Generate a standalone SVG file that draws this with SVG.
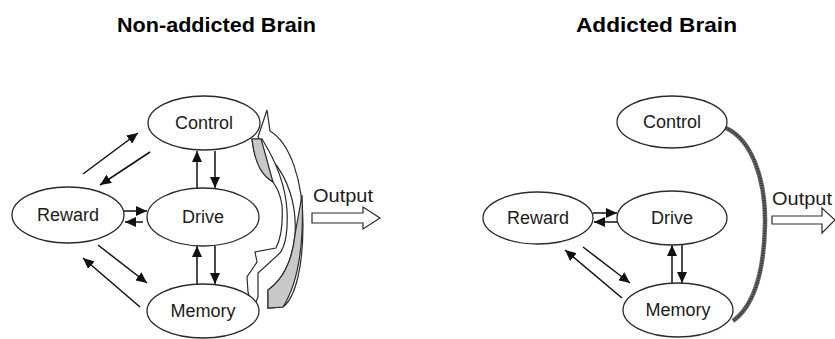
<svg xmlns="http://www.w3.org/2000/svg" width="835" height="339" viewBox="0 0 835 339">
<defs>
<style>
.node ellipse{fill:#fff;stroke:#2b2b2b;stroke-width:1.3}
.lbl{font-family:"Liberation Sans",Arial,sans-serif;font-size:18px;fill:#1c1c1c;text-anchor:middle}
.title{font-family:"Liberation Sans",Arial,sans-serif;font-size:20px;font-weight:bold;fill:#000}
.arr{stroke:#111;stroke-width:1.5;fill:none;marker-end:url(#ah)}
.blk{fill:#fff;stroke:#2b2b2b;stroke-width:1.2;stroke-linejoin:miter}
.gry{fill:#c8c8c8;stroke:#2b2b2b;stroke-width:1.2}
</style>
<marker id="ah" markerUnits="userSpaceOnUse" markerWidth="12" markerHeight="10" refX="11" refY="5" orient="auto">
<path d="M0,0 L11,5 L0,10 Z" fill="#111"/>
</marker>
</defs>
<rect width="835" height="339" fill="#fff"/>

<text class="title" x="117" y="32" textLength="199" lengthAdjust="spacingAndGlyphs">Non-addicted Brain</text>
<text class="title" x="576" y="32" textLength="161" lengthAdjust="spacingAndGlyphs">Addicted Brain</text>

<!-- Left diagram -->
<g id="curved-arrows-left">
<path class="blk" d="M267,110 L270,131 C290,143 303,180 303,225 C303,265 296,297 283,307 L268,308 L268,290 C282,280 292,262 295,235 C297,205 288,178 272,160 C266,152 262,144 258,137 Z"/>
<path class="gry" d="M302,195 C304,240 300,280 283,307 L268,308 L268,290 C282,280 292,262 295,235 C297,222 300,208 302,195 Z"/>
<path class="blk" d="M262,139 C272,155 285,180 287,210 C288,232 286,245 280,253 L258,273 L258,297 L253,309 L248,292 L247,277 L257,262 L255,252 L276,248 C281,238 283,222 282,205 C280,193 277,188 273,182 C262,172 254,160 252,139 Z"/>
<path class="gry" d="M252,139 L261,139 C265,152 268,165 273,182 C263,176 255,166 252,139 Z"/>
</g>

<g id="output-left">
<text class="lbl" x="343" y="202" textLength="60" lengthAdjust="spacingAndGlyphs" style="font-size:19px">Output</text>
<path class="blk" d="M312,213 H363 V207 L380,218 L363,229 V223 H312 Z"/>
</g>

<g id="connectors-left">
<line class="arr" x1="197" y1="188" x2="197" y2="151"/>
<line class="arr" x1="215" y1="151" x2="215" y2="188"/>
<line class="arr" x1="197" y1="284" x2="197" y2="246"/>
<line class="arr" x1="215" y1="246" x2="215" y2="284"/>
<line class="arr" x1="83" y1="174" x2="138" y2="133"/>
<line class="arr" x1="150" y1="152" x2="100" y2="185"/>
<line class="arr" x1="123" y1="211" x2="147" y2="211"/>
<line class="arr" x1="143" y1="222" x2="125" y2="222"/>
<line class="arr" x1="98" y1="245" x2="147" y2="283"/>
<line class="arr" x1="140" y1="307" x2="83" y2="258"/>
</g>

<g id="control-left" class="node"><ellipse cx="204" cy="123" rx="56" ry="27"/><text class="lbl" x="204" y="129">Control</text></g>
<g id="drive-left" class="node"><ellipse cx="203" cy="217" rx="56" ry="29"/><text class="lbl" x="203" y="223">Drive</text></g>
<g id="reward-left" class="node"><ellipse cx="68" cy="215" rx="56" ry="28"/><text class="lbl" x="68" y="221">Reward</text></g>
<g id="memory-left" class="node"><ellipse cx="203" cy="311" rx="56" ry="27"/><text class="lbl" x="203" y="317">Memory</text></g>

<!-- Right diagram -->
<g id="hatched-link-right">
<path d="M726,128 C752,140 766,180 765,225 C764,270 755,305 733,321" fill="none" stroke="#666" stroke-width="4.5"/>
<path d="M726,128 C752,140 766,180 765,225 C764,270 755,305 733,321" fill="none" stroke="#2a2a2a" stroke-width="2.5" stroke-dasharray="1 1.5"/>
</g>

<g id="output-right">
<text class="lbl" x="802" y="205" textLength="60" lengthAdjust="spacingAndGlyphs" style="font-size:19px">Output</text>
<path class="blk" d="M772,216 H822 V208 L835,220 L822,233 V224 H772 Z"/>
</g>

<g id="connectors-right">
<line class="arr" x1="593" y1="213" x2="617" y2="213"/>
<line class="arr" x1="618" y1="222" x2="594" y2="222"/>
<line class="arr" x1="583" y1="247" x2="630" y2="283"/>
<line class="arr" x1="622" y1="298" x2="565" y2="250"/>
<line class="arr" x1="672" y1="283" x2="672" y2="245"/>
<line class="arr" x1="682" y1="245" x2="682" y2="283"/>
</g>

<g id="control-right" class="node"><ellipse cx="672" cy="122" rx="55" ry="26"/><text class="lbl" x="672" y="128">Control</text></g>
<g id="drive-right" class="node"><ellipse cx="672" cy="218" rx="55" ry="27"/><text class="lbl" x="672" y="224">Drive</text></g>
<g id="reward-right" class="node"><ellipse cx="538" cy="218" rx="55" ry="26"/><text class="lbl" x="538" y="224">Reward</text></g>
<g id="memory-right" class="node"><ellipse cx="678" cy="310" rx="55" ry="27"/><text class="lbl" x="678" y="316">Memory</text></g>
</svg>
